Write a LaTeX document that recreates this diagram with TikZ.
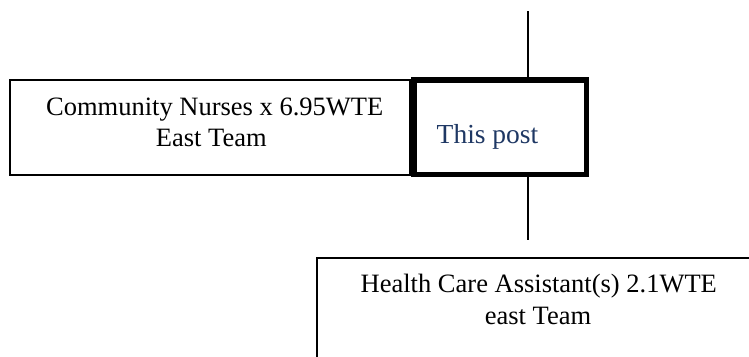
\documentclass[tikz,border=0pt]{standalone}
\usepackage{fontspec}
\setmainfont{Liberation Serif}
\definecolor{postblue}{RGB}{31,56,100}
\begin{document}
\begin{tikzpicture}[x=1pt,y=-1pt,
  box/.style={draw=black, line width=2.2pt, rectangle, outer sep=0pt, inner sep=0pt},
  postbox/.style={draw=black, line width=5.5pt, rectangle, outer sep=0pt, inner sep=0pt},
  conn/.style={draw=black, line width=1.4pt},
  lbl/.style={inner sep=0pt, outer sep=0pt, font=\fontsize{26.5pt}{31pt}\selectfont, text=black},
  postlbl/.style={inner sep=0pt, outer sep=0pt, font=\fontsize{27.5pt}{32pt}\selectfont, text=postblue}]
\clip (0,0) rectangle (749,356);
\fill[white] (0,0) rectangle (749,356);
% boxes
\node[box, minimum width=400pt, minimum height=95pt, anchor=north west] (cn) at (10,80) {};
\node[box, minimum width=600pt, minimum height=200pt, anchor=north west] (hca) at (317,258) {};
\coordinate (topend) at (528,11);
\coordinate (botend) at (528,240);
\node[postbox, minimum width=172.5pt, minimum height=94.5pt, anchor=north west] (post) at (413.75,79.75) {};
% connectors
\draw[conn] (topend) -- ([yshift=-3pt]topend |- post.north);
\draw[conn] (topend |- post.south) -- (botend);
% texts
\node[lbl, anchor=base] (cn1) at (214.7,115) {Community Nurses x 6.95WTE};
\node[lbl, anchor=base] (cn2) at (211.3,146) {East Team};
\node[postlbl, anchor=base west] (posttext) at (436.7,143.5) {This post};
\node[lbl, anchor=base] (hca1) at (538.8,292) {Health Care Assistant(s) 2.1WTE};
\node[lbl, anchor=base] (hca2) at (538,324) {east Team};
\end{tikzpicture}
\end{document}
